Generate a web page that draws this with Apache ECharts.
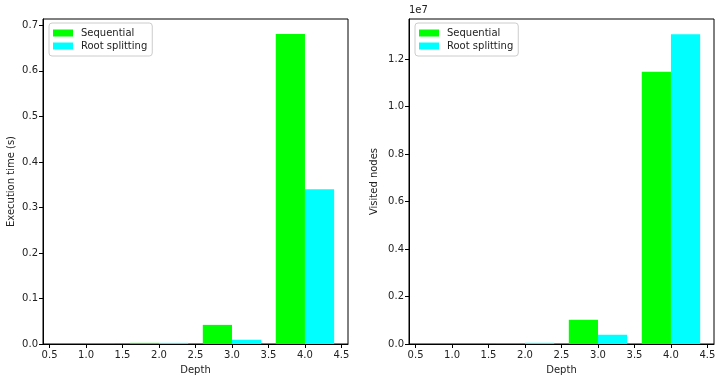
<!DOCTYPE html>
<html>
<head>
<meta charset="utf-8">
<script src="https://cdn.jsdelivr.net/npm/echarts@6/dist/echarts.min.js"></script>
<style>html,body{margin:0;padding:0;background:#fff}#c{width:724px;height:382px}</style>
</head>
<body>
<div id="c"></div>
<script>
// ---- data ----
const depths = [1, 2, 3, 4];
const seqTime = [0.0002, 0.0025, 0.042, 0.681];
const rootTime = [0.0002, 0.0025, 0.0094, 0.340];
const seqNodes = [600, 8000, 1020000, 11470000];
const rootNodes = [900, 50000, 390000, 13050000];
const xTicks = [0.5, 1.0, 1.5, 2.0, 2.5, 3.0, 3.5, 4.0, 4.5];
const timeTicks = [0, 0.1, 0.2, 0.3, 0.4, 0.5, 0.6, 0.7];
const nodeTicks = [0, 2000000, 4000000, 6000000, 8000000, 10000000, 12000000];
const seriesNames = ['Sequential', 'Root splitting'];

const BAR_W = 0.4;
const FONT = 'DejaVu Sans';
const TXT = '#222';

function barRender(offset) {
  return function (params, api) {
    const x0 = api.value(0) + offset;
    const p0 = api.coord([x0, 0]);
    const p1 = api.coord([x0 + BAR_W, api.value(1)]);
    return {
      type: 'rect',
      shape: { x: p0[0], y: p1[1], width: p1[0] - p0[0], height: p0[1] - p1[1] },
      style: api.style()
    };
  };
}

function xAxis(gi) {
  return {
    type: 'value', gridIndex: gi, min: 0.41, max: 4.59,
    name: 'Depth', nameLocation: 'middle', nameGap: 21,
    nameTextStyle: { fontFamily: FONT, fontSize: 10, color: TXT, verticalAlign: 'top' },
    axisLine: { show: true, onZero: false, lineStyle: { color: '#000', width: 1 } },
    axisTick: { show: true, length: 4, customValues: xTicks, lineStyle: { color: '#000' } },
    axisLabel: { customValues: xTicks, fontFamily: FONT, fontSize: 10, color: TXT, margin: 6,
      formatter: v => v.toFixed(1) },
    splitLine: { show: false }
  };
}

function yAxis(gi, max, ticks, fmt, name, gap) {
  return {
    type: 'value', gridIndex: gi, min: 0, max: max,
    name: name, nameLocation: 'middle', nameGap: gap,
    nameTextStyle: { fontFamily: FONT, fontSize: 10, color: TXT },
    axisLine: { show: true, lineStyle: { color: '#000', width: 1 } },
    axisTick: { show: true, length: 4, customValues: ticks, lineStyle: { color: '#000' } },
    axisLabel: { customValues: ticks, fontFamily: FONT, fontSize: 10, color: TXT, margin: 5, formatter: fmt },
    splitLine: { show: false }
  };
}

function legend(left) {
  return {
    left: left, top: 23, orient: 'vertical',
    data: seriesNames.map(n => ({ name: n, icon: 'rect' })),
    itemWidth: 20, itemHeight: 7, itemGap: 3,
    padding: [5, 5, 5, 4],
    borderColor: '#ccc', borderWidth: 1, borderRadius: 3, backgroundColor: '#fff',
    textStyle: { fontFamily: FONT, fontSize: 10, color: TXT, padding: [0, 0, 0, 3] },
    selectedMode: false
  };
}

const chart = echarts.init(document.getElementById('c'), null, { renderer: 'canvas' });
chart.setOption({
  animation: false,
  backgroundColor: '#fff',
  textStyle: { fontFamily: FONT },
  grid: [
    { left: 43, right: 376, top: 19, bottom: 38, show: true, borderColor: '#000', borderWidth: 1, containLabel: false },
    { left: 409, right: 10, top: 19, bottom: 38, show: true, borderColor: '#000', borderWidth: 1, containLabel: false }
  ],
  xAxis: [xAxis(0), xAxis(1)],
  yAxis: [
    yAxis(0, 0.714, timeTicks, v => v.toFixed(1), 'Execution time (s)', 27),
    yAxis(1, 13690000, nodeTicks, v => (v / 1e7).toFixed(1), 'Visited nodes', 30)
  ],
  legend: [legend(49), legend(415)],
  graphic: [
    { type: 'text', left: 409, top: 5, style: { text: '1e7', fontFamily: FONT, fontSize: 10, fill: TXT } }
  ],
  series: [
    { type: 'custom', name: seriesNames[0], xAxisIndex: 0, yAxisIndex: 0, renderItem: barRender(-BAR_W),
      itemStyle: { color: '#00ff00' }, data: depths.map((d, i) => [d, seqTime[i]]) },
    { type: 'custom', name: seriesNames[1], xAxisIndex: 0, yAxisIndex: 0, renderItem: barRender(0),
      itemStyle: { color: '#00ffff' }, data: depths.map((d, i) => [d, rootTime[i]]) },
    { type: 'custom', name: seriesNames[0], xAxisIndex: 1, yAxisIndex: 1, renderItem: barRender(-BAR_W),
      itemStyle: { color: '#00ff00' }, data: depths.map((d, i) => [d, seqNodes[i]]) },
    { type: 'custom', name: seriesNames[1], xAxisIndex: 1, yAxisIndex: 1, renderItem: barRender(0),
      itemStyle: { color: '#00ffff' }, data: depths.map((d, i) => [d, rootNodes[i]]) }
  ]
});
</script>
</body>
</html>
